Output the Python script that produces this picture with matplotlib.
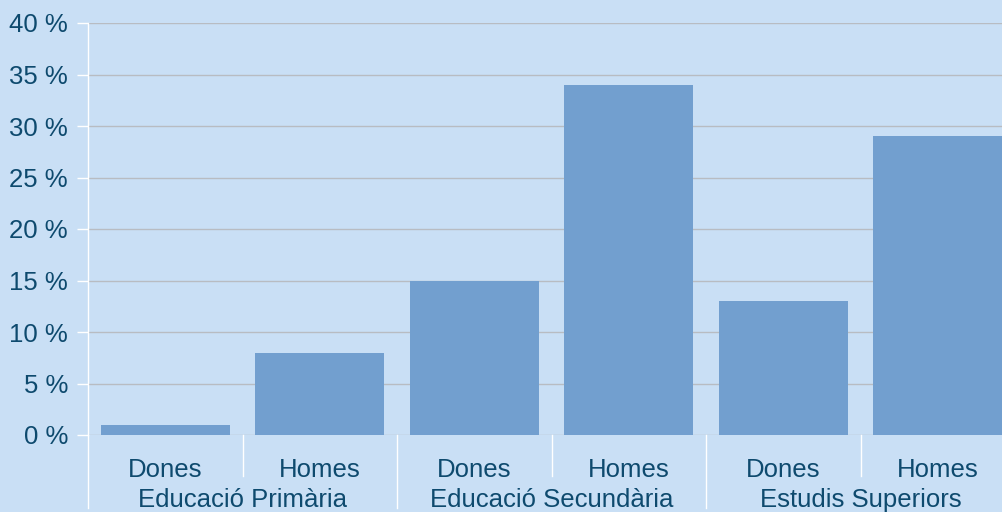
import matplotlib.pyplot as plt
import matplotlib.transforms as mtransforms
import numpy as np

# data
groups = ['Educació Primària', 'Educació Secundària', 'Estudis Superiors']
subcats = ['Dones', 'Homes']
values = [1, 8, 15, 34, 13, 29]
yticks = [0, 5, 10, 15, 20, 25, 30, 35, 40]

bg = '#c9dff5'
bar_color = '#729fcf'
text_color = '#0e4a6e'
grid_color = '#b8bcc2'

plt.rcParams['font.family'] = ['Liberation Sans', 'DejaVu Sans']

W, H = 1003, 512
fig = plt.figure(figsize=(W / 100, H / 100), dpi=100, facecolor=bg)
left, right, top, bottom = 88, 1015, 23, 435
ax = fig.add_axes([left / W, 1 - bottom / H, (right - left) / W, (bottom - top) / H])
ax.set_facecolor(bg)

n = len(values)
x = np.arange(n)
ax.bar(x, values, width=0.835, color=bar_color, zorder=2)
ax.set_xlim(-0.5, n - 0.5)
ax.set_ylim(0, 40)

ax.set_yticks(yticks)
ax.set_yticklabels([f'{t} %' for t in yticks], fontsize=18.5, color=text_color)
# tick length / pad in points (11 px and 9 px at 100 dpi)
ax.tick_params(axis='y', length=7.9, width=1, color='white', pad=6.5)
ax.tick_params(axis='x', bottom=False, labelbottom=False)
ax.yaxis.grid(True, color=grid_color, linewidth=1, zorder=0)
ax.set_axisbelow(True)

for s in ['top', 'right', 'bottom']:
    ax.spines[s].set_visible(False)
ax.spines['left'].set_color('white')
ax.spines['left'].set_linewidth(1)

trans = mtransforms.blended_transform_factory(ax.transData, ax.transAxes)
px = 1.0 / (bottom - top)  # one pixel in axes fraction

# sub-category labels
for i in range(n):
    ax.text(x[i], -35 * px, subcats[i % len(subcats)], transform=trans,
            ha='center', va='center', fontsize=18.5, color=text_color)

# group labels
per = len(subcats)
for g, name in enumerate(groups):
    cx = g * per + (per - 1) / 2
    ax.text(cx, -65 * px, name, transform=trans,
            ha='center', va='center', fontsize=18.5, color=text_color)

# separators below the axis
for i in range(n + 1):
    xb = i - 0.5
    if i % per == 0:
        y0 = -73 * px
    else:
        y0 = -41 * px
    ax.plot([xb, xb], [0, y0], transform=trans, color='white',
            linewidth=1, clip_on=False)

fig.savefig('out.png', dpi=100, facecolor=bg)
